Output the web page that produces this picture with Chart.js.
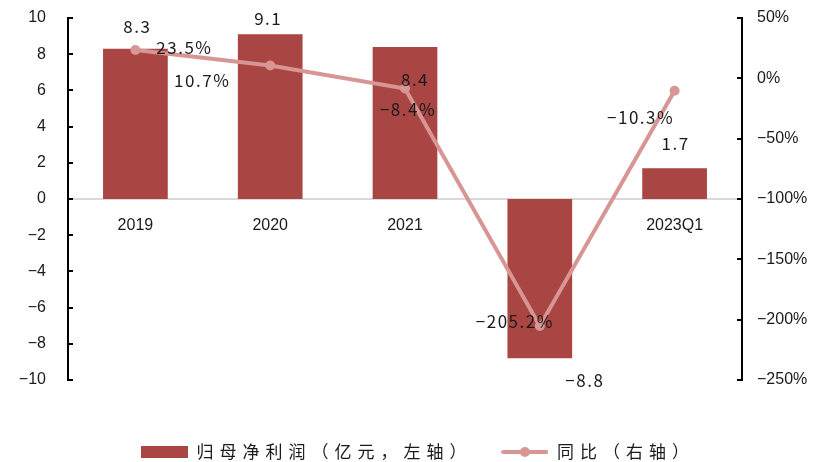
<!DOCTYPE html>
<html>
<head>
<meta charset="utf-8">
<script src="https://cdn.jsdelivr.net/npm/chart.js@4.4.0/dist/chart.umd.min.js"></script>
<style>
  html, body { margin: 0; padding: 0; background: #fff; }
  #wrap { width: 820px; height: 462px; }
</style>
</head>
<body>
<div id="wrap"><canvas id="myChart"></canvas></div>
<script>
// data
var categories = ['2019', '2020', '2021', '2022', '2023Q1'];
var profit = [8.3, 9.1, 8.4, -8.8, 1.7];          // 归母净利润 (亿元)
var growth = [23.5, 10.7, -8.4, -205.2, -10.3];   // 同比 (%)
var leftTicks = [-10, -8, -6, -4, -2, 0, 2, 4, 6, 8, 10];
var rightTicks = [-250, -200, -150, -100, -50, 0, 50];

var barColor = '#a94543';
var lineColor = '#d79593';
var textColor = '#1a1a1a';
var cjk = '"Noto Sans CJK SC", sans-serif';
var latin = '"Liberation Sans", Arial, sans-serif';

// label nudges (px) so they sit where the original put them
var barLabelShift = [[2, -22], [-2, -16], [10, 33], [45, 22], [1, -25]];
var lineLabelShift = [[49, -2], [-68, 15], [3, 21], [-25, -4], [-34, 27]];

function minus(s, v) { return v < 0 ? '\u2212' + s : s; }
function fmt(v, suffix) { return minus(Math.abs(v).toFixed(1) + (suffix || ''), v); }

var swatches = {};
function swatch(kind) {
    if (swatches[kind]) return swatches[kind];
    var c = document.createElement('canvas');
    c.width = 47; c.height = 12;
    var g = c.getContext('2d');
    if (kind === 'bar') {
        g.fillStyle = barColor;
        g.fillRect(0, 0, 47, 12);
    } else {
        g.strokeStyle = lineColor;
        g.lineWidth = 4;
        g.lineCap = 'round';
        g.beginPath(); g.moveTo(2, 6); g.lineTo(45, 6); g.stroke();
        g.fillStyle = lineColor;
        g.beginPath(); g.arc(23.5, 6, 5, 0, Math.PI * 2); g.fill();
    }
    swatches[kind] = c;
    return c;
}

// wider letter spacing for the legend text, and pull it down / right a bit
var legendSpacing = {
    id: 'legendSpacing',
    afterInit: function (chart) {
        var lg = chart.legend;
        ['fit', 'draw'].forEach(function (fn) {
            var orig = lg[fn].bind(lg);
            lg[fn] = function () {
                var ctx = chart.ctx;
                ctx.save();
                ctx.letterSpacing = '6px';
                if (fn === 'draw') ctx.translate(8, 0);
                orig.apply(null, arguments);
                ctx.restore();
                if (fn === 'fit') this.height -= 8.5;
            };
        });
    }
};

// small tick marks pointing into the plot
var innerTicks = {
    id: 'innerTicks',
    afterDraw: function (chart) {
        var ctx = chart.ctx;
        ctx.save();
        ctx.strokeStyle = '#000';
        ctx.lineWidth = 2;
        [['y', 1], ['y1', -1]].forEach(function (p) {
            var s = chart.scales[p[0]];
            var x0 = p[1] > 0 ? s.right : s.left;
            s.ticks.forEach(function (t) {
                var y = Math.round(s.getPixelForValue(t.value));
                ctx.beginPath();
                ctx.moveTo(x0, y);
                ctx.lineTo(x0 + 5 * p[1], y);
                ctx.stroke();
            });
        });
        ctx.restore();
    }
};

var valueLabels = {
    id: 'valueLabels',
    afterDatasetsDraw: function (chart) {
        var ctx = chart.ctx;
        ctx.save();
        ctx.font = '17px ' + cjk;
        ctx.letterSpacing = '1.5px';
        ctx.fillStyle = textColor;
        ctx.textAlign = 'center';
        ctx.textBaseline = 'middle';
        chart.getDatasetMeta(0).data.forEach(function (el, i) {
            ctx.fillText(fmt(profit[i]), el.x + barLabelShift[i][0], el.y + barLabelShift[i][1]);
        });
        chart.getDatasetMeta(1).data.forEach(function (el, i) {
            ctx.fillText(fmt(growth[i], '%'), el.x + lineLabelShift[i][0], el.y + lineLabelShift[i][1]);
        });
        ctx.restore();
    }
};

var ctx = document.getElementById('myChart').getContext('2d');
var myChart = new Chart(ctx, {
    data: {
        labels: categories,
        datasets: [
            {
                type: 'bar',
                label: '归母净利润（亿元，左轴）',
                data: profit,
                yAxisID: 'y',
                backgroundColor: barColor,
                borderWidth: 0,
                barPercentage: 0.48,
                categoryPercentage: 1,
                order: 1
            },
            {
                type: 'line',
                label: '同比（右轴）',
                data: growth,
                yAxisID: 'y1',
                borderColor: lineColor,
                backgroundColor: lineColor,
                borderWidth: 4,
                pointRadius: 5,
                pointBorderWidth: 0,
                tension: 0,
                order: 0
            }
        ]
    },
    options: {
        responsive: true,
        maintainAspectRatio: false,
        animation: false,
        layout: { padding: { top: 18, left: 0, right: 0, bottom: 0 } },
        plugins: {
            tooltip: { enabled: false },
            legend: {
                position: 'bottom',
                align: 'center',
                title: { display: true, text: '', font: { size: 10 }, padding: { top: 0, bottom: 22.5 } },
                labels: {
                    usePointStyle: true,
                    pointStyleWidth: 47,
                    padding: 29,
                    color: textColor,
                    font: { size: 17, family: cjk },
                    generateLabels: function (chart) {
                        return chart.data.datasets.map(function (ds, i) {
                            return {
                                text: ds.label,
                                pointStyle: swatch(ds.type),
                                fillStyle: ds.backgroundColor,
                                strokeStyle: 'transparent',
                                lineWidth: 0,
                                hidden: false,
                                fontColor: textColor,
                                datasetIndex: i
                            };
                        });
                    }
                }
            }
        },
        scales: {
            x: {
                position: { y: 0 },
                z: 1,
                grid: { display: false, drawTicks: false },
                border: { display: true, color: '#d9d9d9', width: 2 },
                ticks: { color: textColor, padding: 17, font: { size: 16, family: latin } }
            },
            y: {
                position: 'left',
                min: -10,
                max: 10,
                grid: { display: false, drawTicks: true, tickLength: 20 },
                border: { display: true, color: '#000', width: 2 },
                ticks: {
                    color: textColor,
                    padding: 2,
                    font: { size: 16, family: latin },
                    callback: function (v) { return minus(String(Math.abs(v)), v); }
                },
                afterBuildTicks: function (s) { s.ticks = leftTicks.map(function (v) { return { value: v }; }); },
                afterFit: function (s) { s.width = 68; }
            },
            y1: {
                position: 'right',
                min: -250,
                max: 50,
                grid: { display: false, drawTicks: true, tickLength: 13 },
                border: { display: true, color: '#000', width: 2 },
                ticks: {
                    color: textColor,
                    padding: 2,
                    font: { size: 16, family: latin },
                    callback: function (v) { return minus(Math.abs(v) + '%', v); }
                },
                afterBuildTicks: function (s) { s.ticks = rightTicks.map(function (v) { return { value: v }; }); },
                afterFit: function (s) { s.width = 78; }
            }
        }
    },
    plugins: [legendSpacing, innerTicks, valueLabels]
});
</script>
</body>
</html>
